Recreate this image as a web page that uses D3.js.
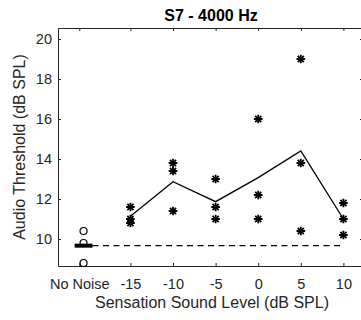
<!DOCTYPE html>
<html lang="en">
<head>
    <meta charset="UTF-8">
    <title>S7 - 4000 Hz</title>
    <script src="https://d3js.org/d3.v7.min.js"></script>
    <style>
        body { margin: 0; background: #fff; }
        svg { display: block; font-family: "Liberation Sans", Arial, sans-serif; }
        .axis path, .axis line { stroke: #262626; }
        .axis text { fill: #262626; font-size: 14.5px; }
    </style>
</head>
<body>
    <div class="canvas"></div>
    <script>
      // data
      const tickLabels = ['No Noise', '-15', '-10', '-5', '0', '5', '10'];
      const tickValues = [-21, -15, -10, -5, 0, 5, 10];
      const levels = [-15, -10, -5, 0, 5, 10];
      const noNoisePos = -20.5;
      const noNoise = [10.4, 9.8, 8.8];
      const runs = [
        [11.6, 11.0, 10.8],
        [13.8, 13.4, 11.4],
        [13.0, 11.6, 11.0],
        [16.0, 12.2, 11.0],
        [19.0, 13.8, 10.4],
        [11.8, 11.0, 10.2]
      ];
      const yTicks = [10, 12, 14, 16, 18, 20];

      const width = 361;
      const height = 320;
      const [mt, mb, mr, ml] = [28, 54, -2, 58];
      const ink = '#262626';

      const svg = d3.select('.canvas')
                      .append('svg')
                      .attr('width', width)
                      .attr('height', height);

      const x = d3.scaleLinear()
                    .domain([-23.5, 12.3])
                    .range([ml, width - mr]);

      const y = d3.scaleLinear()
                    .domain([8.65, 20.55])
                    .range([height - mb, mt]);

      const [x0, x1] = x.range();
      const [y0, y1] = y.range();

      // axes, ticks pointing inward
      svg.append('g')
          .attr('class', 'axis')
          .attr('transform', `translate(0, ${y0})`)
          .call(d3.axisBottom(x)
                  .tickValues(tickValues)
                  .tickFormat((d, i) => tickLabels[i])
                  .tickSizeInner(-3)
                  .tickSizeOuter(0)
                  .tickPadding(13));

      svg.append('g')
          .attr('class', 'axis')
          .attr('transform', `translate(0, ${y1})`)
          .call(d3.axisTop(x)
                  .tickValues(tickValues)
                  .tickFormat('')
                  .tickSizeInner(-3)
                  .tickSizeOuter(0));

      svg.append('g')
          .attr('class', 'axis')
          .attr('transform', `translate(${x0}, 0)`)
          .call(d3.axisLeft(y)
                  .tickValues(yTicks)
                  .tickSizeInner(-3)
                  .tickSizeOuter(0)
                  .tickPadding(6));

      svg.append('g')
          .attr('class', 'axis')
          .attr('transform', `translate(${x1}, 0)`)
          .call(d3.axisRight(y)
                  .tickValues(yTicks)
                  .tickFormat('')
                  .tickSizeInner(-3)
                  .tickSizeOuter(0));

      // mean of the no-noise runs: thick bar + dashed reference
      const base = d3.mean(noNoise);
      svg.append('line')
          .attr('x1', x(noNoisePos - 1.05)).attr('x2', x(noNoisePos + 1.05))
          .attr('y1', y(base)).attr('y2', y(base))
          .attr('stroke', '#000').attr('stroke-width', 4);

      svg.append('line')
          .attr('x1', x(noNoisePos + 1.05)).attr('x2', x(10))
          .attr('y1', y(base)).attr('y2', y(base))
          .attr('stroke', '#000').attr('stroke-width', 1.2)
          .attr('stroke-dasharray', '6,4.5');

      svg.selectAll('circle.nn')
          .data(noNoise)
          .enter()
          .append('circle')
          .attr('class', 'nn')
          .attr('cx', x(noNoisePos))
          .attr('cy', d => y(d))
          .attr('r', 3.5)
          .attr('fill', 'none')
          .attr('stroke', '#000')
          .attr('stroke-width', 1.2);

      // mean line over sensation levels
      const means = levels.map((l, i) => ({ l, v: d3.mean(runs[i]) }));
      const line = d3.line()
                        .x(d => x(d.l))
                        .y(d => y(d.v));

      svg.append('path')
          .attr('fill', 'none')
          .attr('stroke', '#000')
          .attr('stroke-width', 1.3)
          .attr('d', line(means));

      // star markers
      const pts = [];
      levels.forEach((l, i) => runs[i].forEach(v => pts.push({ l, v })));
      const times = d3.symbol(d3.symbolTimes, 26)();

      const star = svg.selectAll('g.star')
          .data(pts)
          .enter()
          .append('g')
          .attr('class', 'star')
          .attr('transform', d => `translate(${x(d.l)}, ${y(d.v)})`);

      star.append('path').attr('d', times)
          .attr('stroke', '#000').attr('stroke-width', 1.8).attr('fill', 'none');
      star.append('path').attr('d', times).attr('transform', 'rotate(45)')
          .attr('stroke', '#000').attr('stroke-width', 1.8).attr('fill', 'none');

      // labels
      svg.append('text')
          .attr('x', 211)
          .attr('y', 21)
          .attr('text-anchor', 'middle')
          .style('font-size', '16px')
          .style('font-weight', 'bold')
          .style('fill', '#000')
          .text('S7 - 4000 Hz');

      svg.append('text')
          .attr('x', 212)
          .attr('y', 308)
          .attr('text-anchor', 'middle')
          .style('font-size', '16px')
          .style('fill', ink)
          .text('Sensation Sound Level (dB SPL)');

      svg.append('text')
          .attr('transform', `translate(25, ${(y0 + y1) / 2}) rotate(-90)`)
          .attr('text-anchor', 'middle')
          .style('font-size', '16px')
          .style('fill', ink)
          .text('Audio Threshold (dB SPL)');
    </script>
</body>
</html>
